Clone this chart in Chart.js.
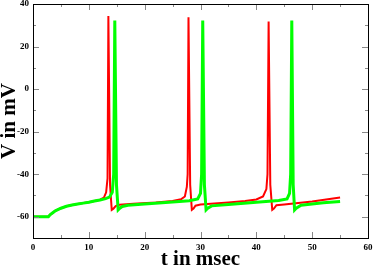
<!DOCTYPE html>
<html>
<head>
<meta charset="utf-8">
<script src="https://cdn.jsdelivr.net/npm/chart.js@4"></script>
<style>
  html, body { margin: 0; padding: 0; background: #fff; }
  #wrap { width: 374px; height: 267px; }
</style>
</head>
<body>
<div id="wrap"><canvas id="myChart"></canvas></div>
<script>
// red trace (time in msec, voltage in mV)
const redT = [0, 2.75, 3.1, 3.6, 4, 5, 6, 7, 8, 9, 10, 11, 12, 12.7, 13.1, 13.35, 13.5, 13.8, 14.1, 14.4, 14.8, 15.5, 18, 22, 25, 26.5, 27.2, 27.55, 27.7, 27.85, 28.15, 28.45, 28.75, 29.1, 30, 35, 38, 40, 41.2, 41.8, 42.0, 42.2, 42.5, 42.85, 43.15, 43.6, 45, 50, 55];
const redV = [-60, -60, -59, -58, -57.2, -56, -55.1, -54.5, -54, -53.6, -53.2, -52.6, -52, -51, -48.5, -42, 34.3, -45, -56.8, -56.2, -55, -54.4, -53.9, -53.3, -52.6, -51.8, -50.5, -46, -40, 33.8, -45, -56.8, -56.2, -54.8, -54.3, -53.3, -52.6, -51.9, -50.5, -47, -40, 31.8, -45, -56.8, -56.2, -54.6, -54.2, -52.8, -51];

// green trace
const greenT = [0, 2.75, 3.1, 3.6, 4, 5, 6, 7, 8, 9, 10, 11, 12, 13, 13.7, 14.2, 14.45, 14.65, 14.95, 15.25, 15.55, 16, 17, 20, 25, 28, 29.5, 30.0, 30.2, 30.4, 30.7, 31.0, 31.3, 32, 35, 40, 44, 45.5, 45.95, 46.15, 46.35, 46.6, 46.85, 47.15, 48, 52, 55];
const greenV = [-60, -60, -59, -58, -57.2, -56, -55.1, -54.5, -54, -53.6, -53.2, -52.6, -52.1, -51.5, -50.8, -48.5, -40, 32.2, -45, -56.8, -56, -55.2, -54.6, -54, -53.1, -52.5, -51.6, -49, -40, 32.2, -45, -56.8, -56, -54.9, -54.3, -53.2, -52.4, -51.6, -49, -40, 32.2, -45, -56.8, -56, -54.6, -53.4, -52.8];

const xMin = 0, xMax = 60, xMinor = 5;
const yMin = -70, yMax = 40, yMinor = 10;
const xTicks = [0, 10, 20, 30, 40, 50, 60];
const yTicks = [-60, -40, -20, 0, 20, 40];

const toPoints = (ts, vs) => ts.map((t, i) => ({ x: t, y: vs[i] }));

// frame + inward ticks on all four sides
const framePlugin = {
    id: 'frame',
    afterDatasetsDraw(chart) {
        const { ctx, chartArea: a, scales } = chart;
        const xs = scales.x, ys = scales.y;
        ctx.save();
        ctx.strokeStyle = '#888';
        ctx.lineWidth = 1;
        ctx.beginPath();
        for (let v = xMin; v <= xMax; v += xMinor) {
            const px = Math.round(xs.getPixelForValue(v)) + 0.5;
            const len = xTicks.includes(v) ? 6 : 3;
            ctx.moveTo(px, a.bottom); ctx.lineTo(px, a.bottom - len);
            ctx.moveTo(px, a.top); ctx.lineTo(px, a.top + len);
        }
        for (let v = yMin; v <= yMax; v += yMinor) {
            const py = Math.round(ys.getPixelForValue(v)) + 0.5;
            const len = yTicks.includes(v) ? 6 : 3;
            ctx.moveTo(a.left, py); ctx.lineTo(a.left + len, py);
            ctx.moveTo(a.right, py); ctx.lineTo(a.right - len, py);
        }
        ctx.stroke();
        ctx.strokeStyle = '#000';
        ctx.lineWidth = 1;
        ctx.strokeRect(Math.round(a.left) + 0.5, Math.round(a.top) + 0.5, Math.round(a.right - a.left), Math.round(a.bottom - a.top));
        ctx.restore();
    }
};

const ctx = document.getElementById('myChart');

const dataset = {
    datasets: [{
        label: 'red',
        data: toPoints(redT, redV),
        borderColor: '#ff0000',
        borderWidth: 2,
        pointRadius: 0,
        tension: 0,
        order: 2
    }, {
        label: 'green',
        data: toPoints(greenT, greenV),
        borderColor: '#00ff00',
        borderWidth: 3,
        pointRadius: 0,
        tension: 0,
        order: 1
    }]
};

const tickFont = { family: 'Liberation Serif', size: 9, weight: 'bold' };
const titleFont = { family: 'Liberation Serif', size: 21, weight: 'bold', lineHeight: 1 };

const config = {
    type: 'line',
    data: dataset,
    plugins: [framePlugin],
    options: {
        responsive: true,
        maintainAspectRatio: false,
        animation: false,
        layout: { padding: { top: 4, right: 6, left: 0, bottom: 0 } },
        plugins: { legend: { display: false }, tooltip: { enabled: false } },
        scales: {
            x: {
                type: 'linear',
                min: xMin, max: xMax,
                grid: { display: false, drawTicks: false },
                border: { display: false },
                ticks: { color: '#000', font: tickFont, padding: 4, maxRotation: 0 },
                afterBuildTicks: (s) => { s.ticks = xTicks.map(v => ({ value: v })); },
                title: { display: true, text: 't in msec', color: '#000', font: titleFont, padding: { top: 0, bottom: -3 } },
                afterFit: (s) => { s.height = 29; s.paddingLeft = 0; s.paddingRight = 0; }
            },
            y: {
                min: yMin, max: yMax,
                grid: { display: false, drawTicks: false },
                border: { display: false },
                ticks: { color: '#000', font: tickFont, padding: 4 },
                afterBuildTicks: (s) => { s.ticks = yTicks.map(v => ({ value: v })); },
                title: { display: true, text: 'V in mV', color: '#000', font: titleFont, padding: { top: -1, bottom: 0 } },
                afterFit: (s) => { s.width = 33; s.paddingTop = 0; s.paddingBottom = 0; }
            }
        }
    }
};

const chart = new Chart(ctx, config);
</script>
</body>
</html>
